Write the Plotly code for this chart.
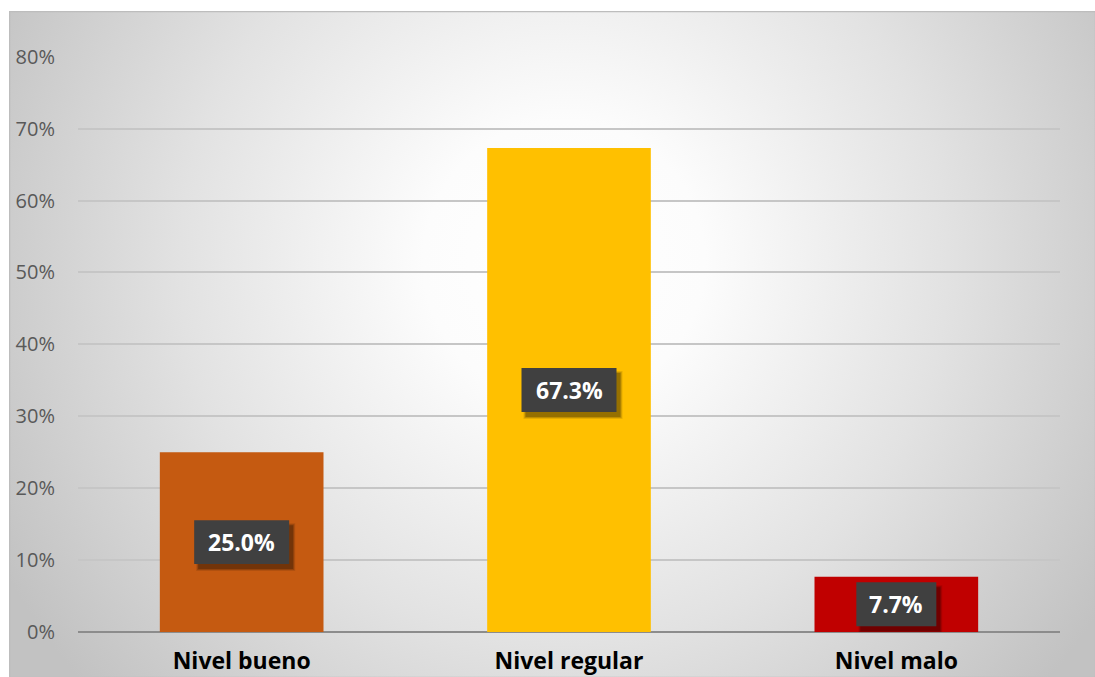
import base64
import plotly.graph_objects as go

# Data
categories = ["Nivel bueno", "Nivel regular", "Nivel malo"]
values = [0.25, 0.673, 0.077]
labels = ["25.0%", "67.3%", "7.7%"]
colors = ["#C55A11", "#FFC000", "#C00000"]
y_ticks = [0, 0.1, 0.2, 0.3, 0.4, 0.5, 0.6, 0.7, 0.8]
y_tick_text = ["0%", "10%", "20%", "30%", "40%", "50%", "60%", "70%", "80%"]

W, H = 1095, 677
L, R, T, B = 78, 35, 56, 45
plot_w = W - L - R
plot_h = H - T - B
y_max = 0.8
px_per_cat = plot_w / len(categories)
px_per_unit = plot_h / y_max

# Radial-gradient chart background (white centre fading to grey edges)
bg_w, bg_h = 1086, 666
svg = f"""<svg xmlns='http://www.w3.org/2000/svg' width='{bg_w}' height='{bg_h}' viewBox='0 0 {bg_w} {bg_h}' preserveAspectRatio='none'>
<defs><radialGradient id='g' gradientUnits='userSpaceOnUse' cx='555' cy='250' r='640'>
<stop offset='0' stop-color='#ffffff'/>
<stop offset='0.22' stop-color='#fcfcfc'/>
<stop offset='0.6' stop-color='#e2e2e2'/>
<stop offset='1' stop-color='#c2c2c2'/>
</radialGradient></defs>
<rect x='0' y='0' width='{bg_w}' height='{bg_h}' fill='url(#g)'/>
<rect x='0.5' y='0.5' width='{bg_w}' height='{bg_h}' fill='none' stroke='#bdbdbd' stroke-width='1.5'/>
</svg>"""
bg_src = "data:image/svg+xml;base64," + base64.b64encode(svg.encode()).decode()

fig = go.Figure()
fig.add_trace(go.Bar(
    x=categories, y=values,
    marker=dict(color=colors, line=dict(width=0)),
    width=0.5,
    hoverinfo="skip",
))

# Value labels: dark box with soft drop shadow, white bold text
shapes = []
for i, (v, txt) in enumerate(zip(values, labels)):
    box_w_px = 20 + 15 * len(txt)
    box_h_px = 44
    hx = box_w_px / 2 / px_per_cat
    hy = box_h_px / 2 / px_per_unit
    sx = 4 / px_per_cat
    sy = 5 / px_per_unit
    cy = v / 2
    for k, a in ((2, 0.10), (1, 0.16), (0, 0.22)):
        g = k / px_per_cat
        gy = k / px_per_unit
        shapes.append(dict(
            type="rect", xref="x", yref="y", layer="above",
            x0=i - hx + sx - g, x1=i + hx + sx + g,
            y0=cy - hy - sy - gy, y1=cy + hy - sy + gy,
            fillcolor=f"rgba(0,0,0,{a})", line=dict(width=0),
        ))
    shapes.append(dict(
        type="rect", xref="x", yref="y", layer="above",
        x0=i - hx, x1=i + hx, y0=cy - hy, y1=cy + hy,
        fillcolor="#404040", line=dict(width=0),
    ))
    fig.add_annotation(
        x=categories[i], y=cy, text=f"<b>{txt}</b>", showarrow=False,
        font=dict(family="Open Sans", size=23, color="white"),
    )

fig.add_layout_image(
    source=bg_src, xref="paper", yref="paper",
    x=(9 - L) / plot_w, y=(H - B - 11) / plot_h,
    sizex=bg_w / plot_w, sizey=bg_h / plot_h,
    sizing="stretch", xanchor="left", yanchor="top", layer="below",
)

fig.update_layout(
    width=W, height=H,
    margin=dict(l=L, r=R, t=T, b=B, autoexpand=False),
    paper_bgcolor="white",
    plot_bgcolor="rgba(0,0,0,0)",
    showlegend=False,
    shapes=shapes,
    xaxis=dict(
        showgrid=False, zeroline=False, showline=False, automargin=False,
        ticks="", tickfont=dict(family="Open Sans", size=23, color="black"),
        tickprefix="<b>", ticksuffix="</b>",
        ticklabelstandoff=13,
    ),
    yaxis=dict(
        range=[0, y_max + 0.001], tickvals=y_ticks, ticktext=y_tick_text,
        showgrid=True, gridcolor="#c6c6c6", gridwidth=1.5, automargin=False,
        zeroline=True, zerolinecolor="#8c8c8c", zerolinewidth=2,
        showline=False, ticks="",
        tickfont=dict(family="Open Sans", size=20, color="#595959"),
        ticklabelstandoff=22,
    ),
)

fig.write_html("out.html")
